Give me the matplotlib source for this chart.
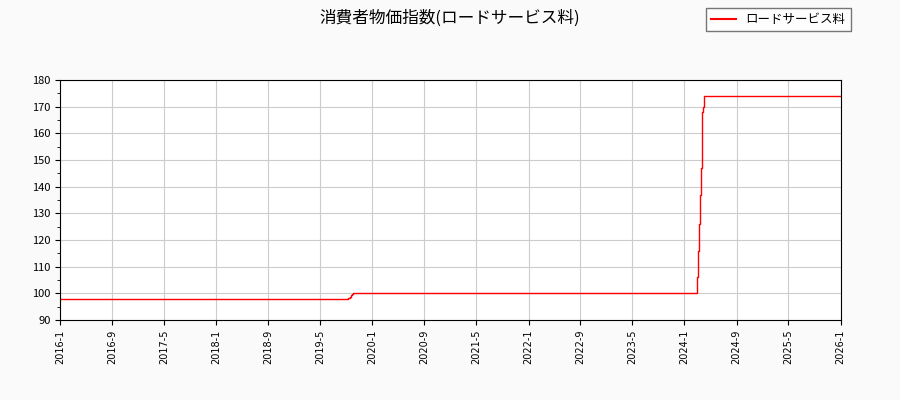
import matplotlib
matplotlib.use("Agg")
import matplotlib.pyplot as plt
import pandas as pd

plt.rcParams['font.family'] = ['Noto Sans CJK JP', 'DejaVu Sans']

dates = ["2016-01-01", "2019-09-10", "2019-09-16", "2019-09-22", "2019-09-28", "2019-10-04",
         "2024-02-26", "2024-03-01", "2024-03-05", "2024-03-09", "2024-03-13", "2024-03-17",
         "2024-03-21", "2024-03-25", "2024-03-29", "2024-04-02", "2026-01-01"]
values = [98, 98.4, 98.8, 99.2, 99.6, 100,
          100, 106, 116, 126, 137, 147, 158, 168, 170, 174, 174]
series_name = "ロードサービス料"
title = "消費者物価指数(ロードサービス料)"

d = pd.to_datetime(dates)
fig = plt.figure(figsize=(9, 4), dpi=100, facecolor="#fafafa")
ax = fig.add_axes([0.067, 0.2, 0.867, 0.6])
ax.set_facecolor("white")
ax.plot(d, values, color="red", lw=1, drawstyle="steps-post", label=series_name)

ticks = pd.date_range("2016-01-01", "2026-01-01", freq="8MS")
ax.set_xticks(ticks)
ax.set_xticklabels([f"{t.year}-{t.month}" for t in ticks], rotation=90, fontsize=7, family="DejaVu Sans")
ax.set_xlim(pd.Timestamp("2016-01-01"), pd.Timestamp("2026-01-01"))
ax.set_ylim(90, 180)
ax.set_yticks(range(90, 181, 10))
ax.set_yticks(range(90, 181, 5), minor=True)
ax.tick_params(axis="y", labelsize=8)
ax.grid(True, color="#cccccc", lw=0.8)
ax.set_axisbelow(True)
fig.suptitle(title, fontsize=12, y=0.975)
leg = fig.legend(loc="upper right", bbox_to_anchor=(0.952, 0.995), fontsize=9, frameon=True,
                 fancybox=False, edgecolor="#555555")
for l in leg.get_lines():
    l.set_linewidth(1.5)
fig.savefig("out.png", facecolor=fig.get_facecolor())
